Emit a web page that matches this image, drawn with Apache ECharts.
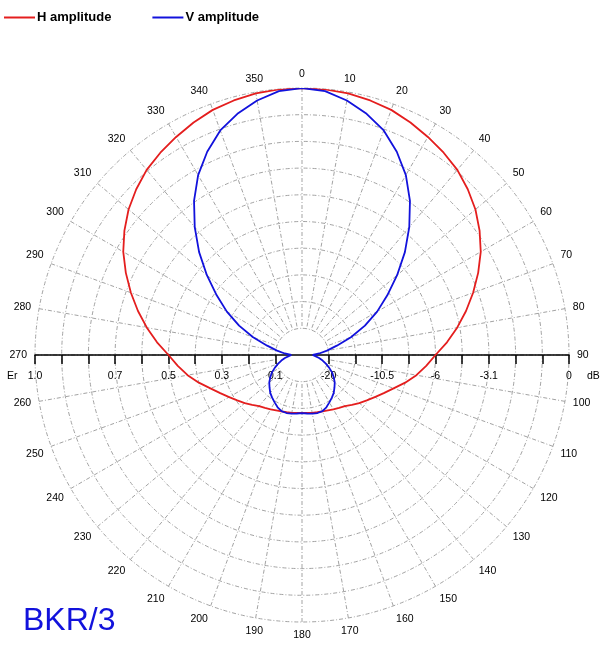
<!DOCTYPE html>
<html>
<head>
<meta charset="utf-8">
<script src="https://cdn.jsdelivr.net/npm/echarts@6/dist/echarts.min.js"></script>
<style>
html, body { margin: 0; padding: 0; background: #fff; }
#chart { width: 612px; height: 653px; }
</style>
</head>
<body>
<div id="chart"></div>
<script>
// angles in degrees, clockwise from top
var angles = [0, 5, 10, 15, 20, 25, 30, 35, 40, 45, 50, 55, 60, 65, 70, 75, 80, 85,
    90, 95, 100, 105, 110, 115, 120, 125, 130, 135, 140, 145, 150, 155, 160, 165, 170, 175,
    180, 185, 190, 195, 200, 205, 210, 215, 220, 225, 230, 235, 240, 245, 250, 255, 260, 265,
    270, 275, 280, 285, 290, 295, 300, 305, 310, 315, 320, 325, 330, 335, 340, 345, 350, 355];

// relative field strength Er
var hAmp = [1.0, 0.999, 0.995, 0.987, 0.977, 0.961, 0.943, 0.925, 0.905, 0.878, 0.848, 0.812, 0.773, 0.728, 0.682, 0.636, 0.59, 0.545,
    0.5, 0.467, 0.435, 0.4, 0.365, 0.338, 0.315, 0.296, 0.28, 0.264, 0.25, 0.242, 0.235, 0.229, 0.225, 0.222, 0.22, 0.218,
    0.217, 0.218, 0.22, 0.222, 0.225, 0.229, 0.235, 0.242, 0.25, 0.264, 0.28, 0.296, 0.315, 0.338, 0.365, 0.4, 0.435, 0.467,
    0.5, 0.545, 0.59, 0.636, 0.682, 0.728, 0.773, 0.812, 0.848, 0.878, 0.905, 0.925, 0.943, 0.961, 0.977, 0.987, 0.995, 0.999];

var vAmp = [1.0, 0.992, 0.968, 0.935, 0.895, 0.84, 0.778, 0.705, 0.625, 0.545, 0.465, 0.39, 0.325, 0.26, 0.195, 0.135, 0.095, 0.065,
    0.04, 0.05, 0.065, 0.08, 0.095, 0.112, 0.13, 0.145, 0.16, 0.172, 0.185, 0.195, 0.205, 0.216, 0.224, 0.225, 0.223, 0.22,
    0.218, 0.22, 0.223, 0.225, 0.224, 0.216, 0.205, 0.195, 0.185, 0.172, 0.16, 0.145, 0.13, 0.112, 0.095, 0.08, 0.065, 0.05,
    0.04, 0.065, 0.095, 0.135, 0.195, 0.26, 0.325, 0.39, 0.465, 0.545, 0.625, 0.705, 0.778, 0.84, 0.895, 0.935, 0.968, 0.992];

// scale along the 270-90 line
var tickPos = [-1, -0.9, -0.8, -0.7, -0.6, -0.5, -0.4, -0.3, -0.2, -0.1,
    0.1, 0.2, 0.3, 0.4, 0.5, 0.6, 0.7, 0.8, 0.9, 1];
var labelPos = [-1, -0.7, -0.5, -0.3, -0.1, 0.1, 0.3, 0.5, 0.7, 1];
var labelText = ['1.0', '0.7', '0.5', '0.3', '0.1', '-20', '-10.5', '-6', '-3.1', '0'];

var cx = 302, cy = 355, R = 267;

function toPolar(vals) {
    var out = angles.map(function (a, i) { return [vals[i], a]; });
    out.push([vals[0], 360]);
    return out;
}

var gridLine = { color: '#a3a3a3', width: 1, type: [4, 2, 1, 2] };
var font = 'Arial, "Liberation Sans", sans-serif';
var red = '#e41e1e', blue = '#1212dc';

var myChart = echarts.init(document.getElementById('chart'));
var option = {
    animation: false,
    backgroundColor: '#fff',
    legend: {
        left: 4,
        top: 11,
        padding: 0,
        icon: 'rect',
        itemWidth: 31,
        itemHeight: 2,
        itemGap: 41,
        data: ['H amplitude', 'V amplitude'],
        textStyle: { fontFamily: font, fontWeight: 'bold', fontSize: 13, color: '#000', padding: [0, 0, 0, -3] }
    },
    polar: [
        { center: [cx, cy], radius: [R * 0.1, R] },
        { center: [cx, cy], radius: [0, R] }
    ],
    angleAxis: [{
        polarIndex: 0,
        type: 'value',
        min: 0,
        max: 360,
        interval: 10,
        startAngle: 90,
        clockwise: true,
        axisLine: { show: false },
        axisTick: { show: false },
        axisLabel: {
            margin: 8,
            fontFamily: font,
            fontSize: 10.5,
            color: '#000',
            formatter: function (v) { return v === 360 ? '' : String(v); }
        },
        splitLine: { show: true, lineStyle: gridLine }
    }, {
        polarIndex: 1,
        type: 'value',
        min: 0,
        max: 360,
        startAngle: 90,
        clockwise: true,
        show: false
    }],
    radiusAxis: [{
        polarIndex: 0,
        type: 'value',
        min: 0.1,
        max: 1,
        interval: 0.1,
        axisLine: { show: false },
        axisTick: { show: false },
        axisLabel: { show: false },
        splitLine: { show: true, lineStyle: gridLine }
    }, {
        polarIndex: 1,
        type: 'value',
        min: 0,
        max: 1,
        show: false
    }],
    grid: { left: cx - R, width: 2 * R, top: cy - 10, height: 10 },
    xAxis: {
        type: 'value',
        min: -1,
        max: 1,
        axisLine: { show: true, onZero: false, lineStyle: { color: '#000', width: 1.5 } },
        axisTick: { show: true, customValues: tickPos, length: 9, inside: false, lineStyle: { color: '#000', width: 1.5 } },
        axisLabel: {
            customValues: labelPos,
            margin: 16,
            fontFamily: font,
            fontSize: 10.5,
            color: '#000',
            formatter: function (v) {
                var i = labelPos.indexOf(v);
                return i >= 0 ? labelText[i] : '';
            }
        },
        splitLine: { show: false }
    },
    yAxis: { type: 'value', show: false },
    graphic: [
        { type: 'text', left: 7, top: 371, style: { text: 'Er', font: '10.5px ' + font, fill: '#000' } },
        { type: 'text', left: 587, top: 371, style: { text: 'dB', font: '10.5px ' + font, fill: '#000' } },
        { type: 'text', left: 23, top: 605, style: { text: 'BKR/3', font: '32px ' + font, fill: blue } }
    ],
    series: [{
        name: 'H amplitude',
        type: 'line',
        coordinateSystem: 'polar',
        polarIndex: 1,
        data: toPolar(hAmp),
        symbol: 'none',
        lineStyle: { color: red, width: 1.8 },
        itemStyle: { color: red },
        z: 3
    }, {
        name: 'V amplitude',
        type: 'line',
        coordinateSystem: 'polar',
        polarIndex: 1,
        data: toPolar(vAmp),
        symbol: 'none',
        lineStyle: { color: blue, width: 1.8 },
        itemStyle: { color: blue },
        z: 4
    }]
};
myChart.setOption(option);
</script>
</body>
</html>
